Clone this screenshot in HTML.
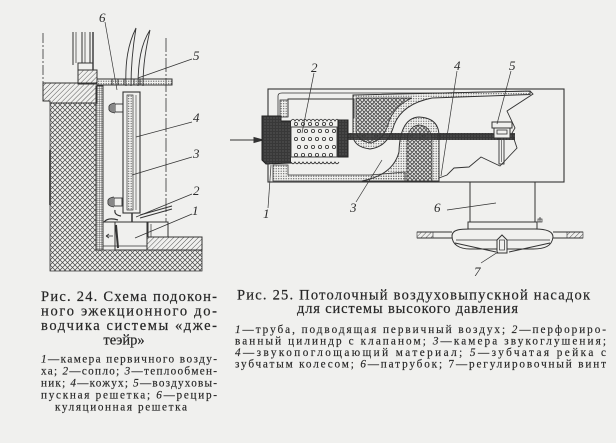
<!DOCTYPE html>
<html><head><meta charset="utf-8">
<style>
html,body{margin:0;padding:0;background:#f0f0ee;}
svg{display:block}
</style></head>
<body>
<svg width="616" height="443" viewBox="0 0 616 443" xmlns="http://www.w3.org/2000/svg">
<defs>
<pattern id="xh" width="5" height="5" patternUnits="userSpaceOnUse"><path d="M0 0L5 5M5 0L0 5" stroke="#4a4a4a" stroke-width="0.75" fill="none"/></pattern>
<pattern id="xs" width="4" height="4" patternUnits="userSpaceOnUse"><path d="M0 0L4 4M4 0L0 4" stroke="#444" stroke-width="0.7" fill="none"/></pattern>
<pattern id="dh" width="3.5" height="3.5" patternUnits="userSpaceOnUse" patternTransform="rotate(45)"><line x1="0" y1="0" x2="0" y2="3.5" stroke="#444" stroke-width="0.9"/></pattern>
<pattern id="dt" width="2.5" height="2.5" patternUnits="userSpaceOnUse"><circle cx="1.2" cy="1.2" r="0.6" fill="#555"/></pattern>
<pattern id="ms" width="2.2" height="2.2" patternUnits="userSpaceOnUse"><path d="M0 0H2.2M0 0V2.2" stroke="#3a3a3a" stroke-width="0.7" fill="none"/></pattern>
<pattern id="dk" width="3" height="3" patternUnits="userSpaceOnUse"><rect width="3" height="3" fill="#383838"/><circle cx="1" cy="1" r="0.55" fill="#7a7a7a"/></pattern>
</defs>

<!-- ================= LEFT FIGURE ================= -->
<g stroke="#333" fill="none" stroke-width="1">
  <line x1="43" y1="33" x2="43" y2="83" stroke-dasharray="10 2 2 2" stroke-width="0.8"/>
  <line x1="166" y1="38" x2="166" y2="222" stroke-dasharray="14 2 2 2" stroke-width="0.8"/>
  <line x1="73" y1="32" x2="73" y2="65"/>
  <line x1="76" y1="32" x2="76" y2="63" stroke-width="0.7"/>
  <line x1="82" y1="32" x2="82" y2="63"/>
  <line x1="85" y1="32" x2="85" y2="63" stroke-width="0.7"/>
  <line x1="90" y1="32" x2="90" y2="63"/>
  <line x1="93" y1="32" x2="93" y2="70" stroke-width="1.4"/>
  <rect x="78" y="63" width="15" height="7"/>
  <rect x="78" y="70" width="19" height="14" fill="url(#dh)"/>
  <path d="M43 83 L97 83 L97 103 L50 103 L50 101 L43 101 Z" fill="url(#dh)"/>
  <path d="M50 103 L96 103 L96 250 L202 250 L202 271 L50 271 Z" fill="url(#xh)" stroke-width="0.8"/>
  <line x1="50" y1="150" x2="50" y2="205" stroke-width="1.6"/>
  <rect x="96" y="86" width="7" height="164" fill="url(#ms)"/>
  <line x1="103" y1="246" x2="147" y2="246" stroke-width="0.8"/>
  <rect x="97" y="79" width="75" height="6" fill="url(#dt)"/>
  <line x1="112" y1="79" x2="112" y2="85"/>
  <line x1="118" y1="79" x2="118" y2="85"/>
  <line x1="124" y1="79" x2="124" y2="85"/>
  <line x1="134" y1="79" x2="134" y2="85"/>
  <line x1="140" y1="79" x2="140" y2="85"/>
  <rect x="123" y="92" width="17" height="121" fill="#f0f0ee" stroke-width="1.1"/>
  <rect x="127" y="95" width="6" height="115" fill="url(#dt)" stroke-width="0.7"/>
  <line x1="136" y1="95" x2="136" y2="210" stroke-width="0.6"/>
  <path d="M126 86 C125 62 128 44 136 28 C133 46 131 64 131 86" stroke-width="0.9"/>
  <path d="M138 86 C138 62 141 44 150 30 C146 48 143 64 143 86" stroke-width="0.9"/>
  <rect x="115" y="104" width="8" height="8" stroke-width="0.9"/>
  <path d="M115 103 Q108 104 109 108 Q108 112 115 113" fill="#888" stroke-width="0.8"/>
  <rect x="114" y="198" width="8" height="8" stroke-width="0.9"/>
  <path d="M114 197 Q107 198 108 202 Q107 206 114 207" fill="#888" stroke-width="0.8"/>
  <path d="M115 210 Q114 215 121 216" stroke-width="1.2"/>
  <path d="M104 222 Q108 217 118 220" stroke-width="1.2"/>
  <line x1="103" y1="222" x2="147" y2="222"/>
  <rect x="115" y="222" width="32" height="28"/>
  <line x1="116" y1="225" x2="118" y2="248" stroke-width="2"/>
  <line x1="106" y1="236" x2="113" y2="236" stroke-width="0.8"/>
  <path d="M106 236 L109 234 M106 236 L109 238" stroke-width="0.8"/>
  <line x1="132" y1="213" x2="132" y2="222" stroke-width="1.5"/>
  <line x1="140" y1="215" x2="172" y2="206"/>
  <line x1="140" y1="218" x2="172" y2="209"/>
  <path d="M147 237 L202 237 L202 250 L147 250 Z" fill="url(#dh)"/>
  <path d="M148 237 L148 222 L168 222 L168 237"/>
  <line x1="151" y1="224" x2="151" y2="237" stroke-width="0.7"/>
  <g stroke-width="0.7">
    <line x1="105" y1="22" x2="117" y2="90"/>
    <line x1="192" y1="59" x2="138" y2="78"/>
    <line x1="192" y1="122" x2="136" y2="137"/>
    <line x1="192" y1="157" x2="132" y2="175"/>
    <line x1="192" y1="194" x2="136" y2="217"/>
    <line x1="192" y1="214" x2="135" y2="238"/>
  </g>
</g>
<g font-family="Liberation Serif, serif" font-style="italic" font-size="13" fill="#2b2b2b">
  <text x="99" y="22">6</text>
  <text x="193" y="60">5</text>
  <text x="193" y="122">4</text>
  <text x="193" y="158">3</text>
  <text x="193" y="195">2</text>
  <text x="192" y="215">1</text>
</g>

<!-- ================= RIGHT FIGURE ================= -->
<g stroke="#333" fill="none" stroke-width="1">
  <line x1="230" y1="140" x2="258" y2="140"/>
  <polygon points="263,140 254,137.5 254,142.5" fill="#333"/>
  <rect x="268" y="89" width="296" height="93" stroke-width="1.1"/>
  <path d="M278 117 L278 96 Q278 93 282 93 L440 93 L530 91" stroke-width="0.8"/>
  <rect x="280" y="100" width="8" height="17" fill="url(#dt)" stroke-width="0.8"/>
  <path d="M273 165 L288 165 L288 175 L370 175 L405 172 L405 181 L273 181 Z" fill="url(#dt)" stroke-width="0.8"/>
  <path d="M288 117 L288 99 L354 99 L354 118" stroke-width="0.9"/>
  <rect x="345" y="133" width="170" height="7" fill="url(#dk)" stroke="none"/>
  <path d="M353 95 L530 91 L530 94.5 L432 98 Q402 104 394 125 Q388 147 370 149 Q354 147 353 136 Z" fill="url(#dt)"/>
  <path d="M356 98 L412 98 Q394 106 389 122 Q384 140 371 143 Q359 142 356 132 Z" fill="url(#xs)" stroke-width="0.7"/>
  <path d="M362 181 Q393 175 399 152 Q400 118 419 117 Q439 118 439 136 L439 181 Z" fill="url(#dt)"/>
  <path d="M407 181 L407 145 Q407 126 419 125 Q431 126 432 140 L432 181 Z" fill="url(#xs)" stroke-width="0.7"/>
  <path d="M262 116 L281 116 L281 121 L291 121 L291 163 L266 164 L262 160 Z" fill="url(#dk)" stroke="#222"/>
  <rect x="291" y="121" width="47" height="41" fill="#f0f0ee" stroke="none"/>
  <path d="M291 121 q2 -3.5 4 0 q2 -3.5 4 0 q2 -3.5 4 0 q2 -3.5 4 0 q2 -3.5 4 0 q2 -3.5 4 0 q2 -3.5 4 0 q2 -3.5 4 0 q2 -3.5 4 0 q2 -3.5 4 0 q2 -3.5 4 0 q2 -3.5 4 0" stroke-width="0.8"/>
  <path d="M291 162 q2 3.5 4 0 q2 3.5 4 0 q2 3.5 4 0 q2 3.5 4 0 q2 3.5 4 0 q2 3.5 4 0 q2 3.5 4 0 q2 3.5 4 0 q2 3.5 4 0 q2 3.5 4 0 q2 3.5 4 0 q2 3.5 4 0" stroke-width="0.8"/>
  <rect x="291" y="127" width="46" height="30" stroke-width="0.9"/>
  <g stroke-width="0.8">
    <circle cx="296" cy="124" r="1.6"/><circle cx="303" cy="124" r="1.6"/><circle cx="310" cy="124" r="1.6"/><circle cx="317" cy="124" r="1.6"/><circle cx="324" cy="124" r="1.6"/><circle cx="331" cy="124" r="1.6"/>
    <circle cx="299" cy="131" r="1.6"/><circle cx="306" cy="131" r="1.6"/><circle cx="313" cy="131" r="1.6"/><circle cx="320" cy="131" r="1.6"/><circle cx="327" cy="131" r="1.6"/><circle cx="334" cy="131" r="1.6"/>
    <circle cx="296" cy="139" r="1.6"/><circle cx="303" cy="139" r="1.6"/><circle cx="310" cy="139" r="1.6"/><circle cx="317" cy="139" r="1.6"/><circle cx="324" cy="139" r="1.6"/><circle cx="331" cy="139" r="1.6"/>
    <circle cx="299" cy="147" r="1.6"/><circle cx="306" cy="147" r="1.6"/><circle cx="313" cy="147" r="1.6"/><circle cx="320" cy="147" r="1.6"/><circle cx="327" cy="147" r="1.6"/><circle cx="334" cy="147" r="1.6"/>
    <circle cx="296" cy="155" r="1.6"/><circle cx="303" cy="155" r="1.6"/><circle cx="310" cy="155" r="1.6"/><circle cx="317" cy="155" r="1.6"/><circle cx="324" cy="155" r="1.6"/><circle cx="331" cy="155" r="1.6"/>
  </g>
  <rect x="338" y="120" width="10" height="37" fill="url(#dk)" stroke="#222"/>
  <polyline points="530,91 533,94 507,111 515,128 512,133 517,148 500,166 481,157 469,167 454,168 447,175 439,178" stroke-width="0.9"/>
  <rect x="492" y="122" width="20" height="6" fill="#f0f0ee"/>
  <rect x="494" y="128" width="16" height="10" fill="#f0f0ee"/>
  <rect x="497" y="130" width="10" height="4" stroke-width="0.8"/>
  <rect x="499" y="138" width="5" height="26" stroke-width="0.9"/>
  <line x1="501.5" y1="140" x2="501.5" y2="162" stroke-width="0.6"/>
  <line x1="470" y1="182" x2="470" y2="222"/>
  <line x1="535" y1="182" x2="535" y2="222"/>
  <rect x="468" y="222" width="69" height="7"/>
  <path d="M540 217 L540 222" stroke-width="0.8"/>
  <rect x="538" y="219" width="4" height="3" stroke-width="0.7"/>
  <path d="M452 236 C452 229 462 229 470 229 L535 229 C545 229 553 231 553 237 C552 246 545 249 533 249 L470 249 C460 249 452 245 452 236 Z"/>
  <line x1="456" y1="240" x2="550" y2="240" stroke-width="0.7"/>
  <line x1="455" y1="243" x2="496" y2="252"/>
  <line x1="509" y1="252" x2="550" y2="243"/>
  <line x1="417" y1="232" x2="452" y2="232"/>
  <line x1="417" y1="238" x2="452" y2="238"/>
  <rect x="417" y="232" width="16" height="6" fill="url(#dh)" stroke-width="0.6"/>
  <line x1="553" y1="232" x2="583" y2="232"/>
  <line x1="553" y1="238" x2="583" y2="238"/>
  <rect x="567" y="232" width="16" height="6" fill="url(#dh)" stroke-width="0.6"/>
  <path d="M497 253 L497 240 L502 235 L507 240 L507 253 Z" fill="#f0f0ee"/>
  <rect x="499.5" y="240" width="5" height="10" stroke-width="0.7"/>
  <g stroke-width="0.7">
    <line x1="314" y1="73" x2="302" y2="133"/>
    <line x1="457" y1="71" x2="441" y2="176"/>
    <line x1="511" y1="71" x2="497" y2="124"/>
    <line x1="268" y1="208" x2="271" y2="165"/>
    <line x1="356" y1="202" x2="382" y2="160"/>
    <line x1="447" y1="210" x2="496" y2="203"/>
    <line x1="481" y1="263" x2="498" y2="252"/>
  </g>
</g>
<g font-family="Liberation Serif, serif" font-style="italic" font-size="13" fill="#2b2b2b">
  <text x="311" y="72">2</text>
  <text x="454" y="70">4</text>
  <text x="509" y="70">5</text>
  <text x="263" y="218">1</text>
  <text x="350" y="212">3</text>
  <text x="434" y="212">6</text>
  <text x="474" y="276">7</text>
</g>

<!-- ================= CAPTIONS ================= -->
<g font-family="Liberation Serif, serif" fill="#262626">
  <g font-size="14.5" stroke="#262626" stroke-width="0.2">
    <text x="41" y="301" textLength="176" lengthAdjust="spacing">Рис. 24. Схема подокон-</text>
    <text x="41" y="315.5" textLength="176" lengthAdjust="spacing">ного эжекционного до-</text>
    <text x="41" y="330" textLength="176" lengthAdjust="spacing">водчика системы «дже-</text>
    <text x="124" y="344.5" text-anchor="middle">теэйр»</text>
  </g>
  <g font-size="11.2" stroke="#262626" stroke-width="0.15">
    <text x="41" y="362.5" textLength="176" lengthAdjust="spacing"><tspan font-style="italic">1</tspan>—камера первичного возду-</text>
    <text x="41" y="374.5" textLength="176" lengthAdjust="spacing">ха; <tspan font-style="italic">2</tspan>—сопло; <tspan font-style="italic">3</tspan>—теплообмен-</text>
    <text x="41" y="386.5" textLength="176" lengthAdjust="spacing">ник; <tspan font-style="italic">4</tspan>—кожух; <tspan font-style="italic">5</tspan>—воздуховы-</text>
    <text x="41" y="398.5" textLength="176" lengthAdjust="spacing">пускная решетка; <tspan font-style="italic">6</tspan>—рецир-</text>
    <text x="55" y="410.5" textLength="132" lengthAdjust="spacing">куляционная решетка</text>
  </g>
  <g font-size="14.5" stroke="#262626" stroke-width="0.2">
    <text x="237" y="299.5" textLength="353" lengthAdjust="spacing">Рис. 25. Потолочный воздуховыпускной  насадок</text>
    <text x="297" y="313" textLength="221" lengthAdjust="spacing">для системы высокого давления</text>
  </g>
  <g font-size="11.2" stroke="#262626" stroke-width="0.15">
    <text x="235" y="333" textLength="371" lengthAdjust="spacing"><tspan font-style="italic">1</tspan>—труба, подводящая первичный  воздух; <tspan font-style="italic">2</tspan>—перфориро-</text>
    <text x="235" y="344.5" textLength="371" lengthAdjust="spacing">ванный цилиндр с клапаном; <tspan font-style="italic">3</tspan>—камера звукоглушения;</text>
    <text x="235" y="356" textLength="371" lengthAdjust="spacing"><tspan font-style="italic">4</tspan>—звукопоглощающий  материал; <tspan font-style="italic">5</tspan>—зубчатая  рейка  с</text>
    <text x="235" y="367.5" textLength="371" lengthAdjust="spacing">зубчатым колесом; <tspan font-style="italic">6</tspan>—патрубок; 7—регулировочный винт</text>
  </g>
</g>
</svg>
</body></html>
